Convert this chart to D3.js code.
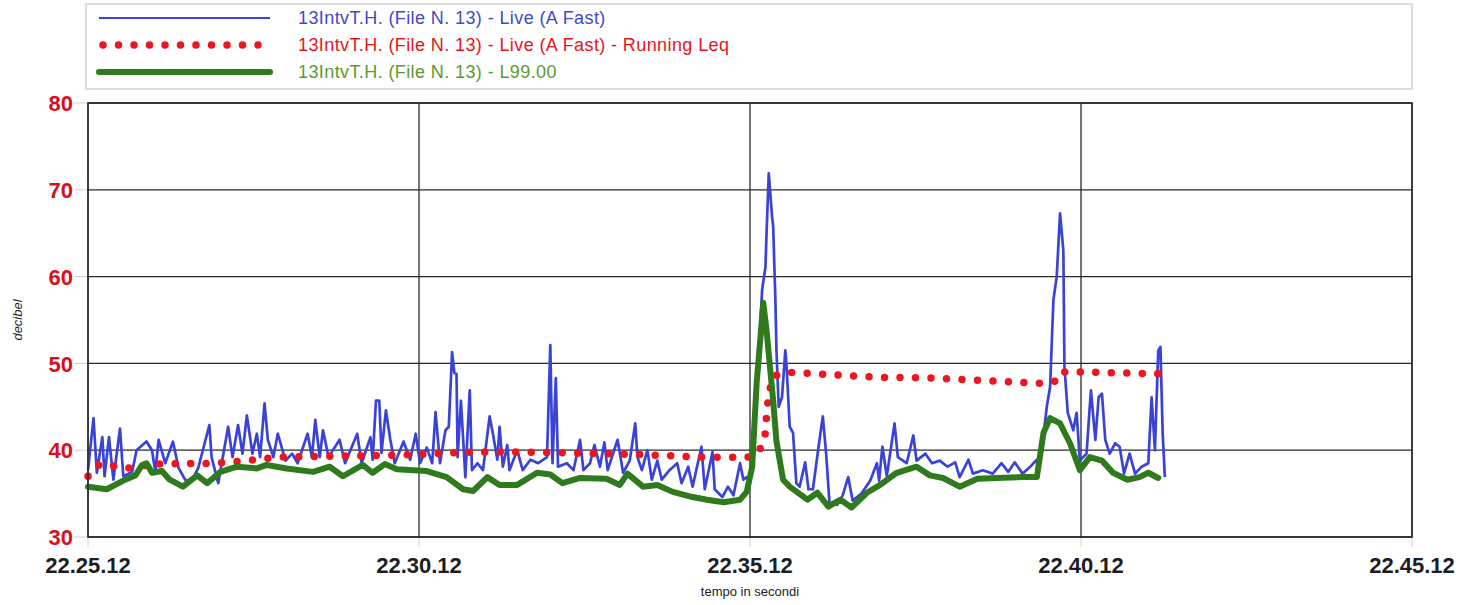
<!DOCTYPE html>
<html>
<head>
<meta charset="utf-8">
<script src="https://cdn.jsdelivr.net/npm/d3@7"></script>
<style>
  body { margin: 0; background: #fff; }
  text { font-family: "Liberation Sans", Arial, sans-serif; }
</style>
</head>
<body>
<div id="chart"></div>
<script>
// times are seconds after 22.25.12
var liveTimes = [0,5,8,13,15,19,23,29,32,40,44,53,58,61,64,70,77,82,88,94,100,110,112,118,127,131,136,140,144,149,153,156,160,163,168,172,179,185,190,199,203,206,210,213,218,228,233,244,248,256,258,261,264,266,270,274,278,286,292,297,301,307,312,315,319,324,327,330,332,334,335,338,342,346,348,353,358,364,367,371,373,376,380,382,389,394,401,408,416,419,421,424,426,434,440,446,449,455,459,464,468,471,480,485,491,496,498,502,507,511,516,520,527,534,538,544,548,556,559,566,568,575,580,585,591,594,597,600,605,609,611,614,615,617,620,621,623,624,626,629,632,633,636,639,642,645,650,653,657,663,666,669,672,679,684,689,693,701,709,715,717,720,724,731,734,742,748,751,759,765,772,779,786,790,798,802,811,820,828,834,840,847,854,860,863,869,872,875,878,881,884,885,888,893,896,899,905,909,913,916,919,922,926,931,935,939,944,949,955,961,964,967,970,972,974,976];
var liveValues = [37.7,43.7,37.4,41.5,37,41.5,36.6,42.5,37,37.5,40,41,40,37.5,41.2,38.5,41,38,36.6,36.4,38,42.9,39.2,36.2,42.7,39.2,42.9,39.6,44,39.6,41.9,39.2,45.4,41.2,39.2,41.9,38.8,39.6,38.5,41.9,39.2,43.5,39.2,42.3,39.2,41.2,38.5,41.9,38.5,41.5,38.9,45.7,45.7,39.7,44.6,41.2,38.5,41,38.9,41.9,38.5,40.3,38.5,44.4,38.5,42.3,42.7,51.3,48.9,48.8,39.2,45.7,36.9,46.9,37.7,38.5,37.7,43.9,41.9,38.9,42.7,38.1,40.6,37.7,40,37.7,38.9,38.5,39.2,52.1,38.5,48.3,38.1,38.5,37.7,41.2,37.7,38.5,40.6,38.1,40.9,37.7,41.2,37.4,38.8,43.1,39.2,37.7,40,36.6,38.8,36.6,37.7,38.5,36.2,38.1,35.8,40.4,35.5,39.8,35.5,34.6,35.8,34.8,38.5,36.6,36.9,36.2,45.7,53.5,58.5,61.1,65,71.9,66.9,65.8,57.3,51.5,45,46.1,51.5,50,42.7,42,36.2,35.8,38.6,35.5,35.5,41.2,43.9,39.6,34,33.7,34.8,36.9,34.2,35,36.5,38.5,36.5,40.4,37,43.1,39.2,38.5,41.7,38.8,39.6,38.5,38.8,38.1,38.6,36.9,38.9,37.3,37.7,37.3,38.5,37.5,38.6,37.3,38.1,38.9,38.5,45,47.3,57.3,60,67.3,63,49.6,44.3,42.3,44.3,38.8,39.6,46.9,41.2,46.1,46.5,41.2,39.6,40.8,40.4,37.3,39.6,37.3,38.1,38.5,46.1,40,51.5,51.9,42,36.9];

var leqTimes = [0,4,11,22,35,49,63,117,144,171,213,267,296,351,392,428,500,557,598,606,611,614,615,617,621,632,715,769,866,872,878,882,902,970];
var leqValues = [37,37.7,38.4,38.2,37.9,38.2,38.4,38.5,38.8,39.2,39.3,39.4,39.5,39.8,39.8,39.7,39.5,39.2,39.2,39.6,40.5,42,44,46.5,48.5,49,48.4,48.3,47.7,47.8,48,49,49,48.8];

var l99Times = [0,17,32,43,49,53,58,67,74,86,99,108,120,135,153,162,180,204,219,231,249,258,269,280,295,307,325,340,349,362,373,389,407,419,430,446,470,482,489,503,516,530,548,561,576,591,597,602,606,609,612,615,621,624,630,636,652,661,671,682,692,706,718,733,751,763,775,790,806,824,847,860,866,872,881,890,899,908,919,929,942,953,961,970];
var l99Values = [35.8,35.5,36.5,37.1,38.3,38.5,37.4,37.6,36.6,35.8,37.1,36.2,37.5,38.1,37.9,38.3,37.9,37.5,38.1,37,38.3,37.4,38.4,37.8,37.7,37.6,36.9,35.5,35.3,36.9,36,36,37.4,37.2,36.2,36.8,36.7,36,37.3,35.8,36,35.2,34.6,34.3,34,34.3,35.2,38.1,47.7,52.3,57,53.8,45.7,41,36.6,35.8,34.3,35.1,33.5,34.3,33.4,35.1,36,37.4,38.1,37.1,36.8,35.8,36.7,36.8,36.9,36.9,42,43.7,43.1,40.8,37.7,39.2,38.8,37.4,36.6,36.9,37.4,36.8];

var xTickSeconds = [0, 300, 600, 900, 1200];
var yTicks = [30, 40, 50, 60, 70, 80];
var seriesNames = [
  "13IntvT.H. (File N. 13) - Live (A Fast)",
  "13IntvT.H. (File N. 13) - Live (A Fast) - Running Leq",
  "13IntvT.H. (File N. 13) - L99.00"
];

(function() {

  var width = 1474,
      height = 605,
      plotLeft = 88,
      plotRight = 1412,
      plotTop = 103,
      plotBottom = 537;

  var blue = '#3a43d8',
      red = '#ee1520',
      green = '#2f7a1d';

  var start = new Date(2000, 0, 1, 22, 25, 12);
  function at(s) { return new Date(start.getTime() + s * 1000); }

  var x = d3.scaleTime().domain([start, at(1200)]).range([plotLeft, plotRight]);
  var y = d3.scaleLinear().domain([30, 80]).range([plotBottom, plotTop]);

  var svg = d3.select('#chart')
    .append('svg')
    .attr('width', width)
    .attr('height', height);

  // legend box
  svg.append('rect')
    .attr('x', 86).attr('y', 4)
    .attr('width', 1326).attr('height', 85)
    .attr('fill', 'none')
    .attr('stroke', '#c8c8c8')
    .attr('stroke-width', 1.2);

  var legend = [
    { name: seriesNames[0], color: blue, text: '#4048cc', y: 18 },
    { name: seriesNames[1], color: red, text: '#e8141c', y: 45 },
    { name: seriesNames[2], color: green, text: '#5a9c2c', y: 72 }
  ];

  legend.forEach(function(d, i) {
    var ln = svg.append('line')
      .attr('x1', i == 1 ? 103 : 99).attr('x2', i == 1 ? 262 : 270)
      .attr('y1', d.y).attr('y2', d.y)
      .attr('stroke', d.color);
    if (i == 0) ln.attr('stroke-width', 2);
    if (i == 1) ln.attr('stroke-width', 7.5).attr('stroke-linecap', 'round').attr('stroke-dasharray', '0,15.5');
    if (i == 2) ln.attr('stroke-width', 6).attr('stroke-linecap', 'round');
    svg.append('text')
      .attr('x', 298).attr('y', d.y)
      .attr('dy', '0.36em')
      .attr('font-size', 18)
      .attr('letter-spacing', 0.4)
      .attr('fill', d.text)
      .text(d.name);
  });

  // light tick marks outside the frame
  svg.selectAll('.ytick')
    .data(yTicks)
    .enter().append('line')
    .attr('x1', 74).attr('x2', plotLeft)
    .attr('y1', function(d) { return y(d); })
    .attr('y2', function(d) { return y(d); })
    .attr('stroke', '#d0d0d0');

  svg.selectAll('.xtick')
    .data(xTickSeconds)
    .enter().append('line')
    .attr('x1', function(d) { return x(at(d)); })
    .attr('x2', function(d) { return x(at(d)); })
    .attr('y1', plotBottom).attr('y2', plotBottom + 10)
    .attr('stroke', '#d0d0d0');

  // grid
  svg.selectAll('.hgrid')
    .data(yTicks)
    .enter().append('line')
    .attr('x1', plotLeft).attr('x2', plotRight)
    .attr('y1', function(d) { return y(d); })
    .attr('y2', function(d) { return y(d); })
    .attr('stroke', '#2a2a2a')
    .attr('stroke-width', 1.3);

  svg.selectAll('.vgrid')
    .data(xTickSeconds)
    .enter().append('line')
    .attr('x1', function(d) { return x(at(d)); })
    .attr('x2', function(d) { return x(at(d)); })
    .attr('y1', plotTop).attr('y2', plotBottom)
    .attr('stroke', '#2a2a2a')
    .attr('stroke-width', 1.3);

  // axis labels
  var fmt = d3.timeFormat('%H.%M.%S');

  svg.selectAll('.ylabel')
    .data(yTicks)
    .enter().append('text')
    .attr('x', 73)
    .attr('y', function(d) { return y(d); })
    .attr('dy', '0.37em')
    .attr('text-anchor', 'end')
    .attr('font-size', 22)
    .attr('font-weight', 'bold')
    .attr('fill', '#d8101c')
    .text(function(d) { return d; });

  svg.selectAll('.xlabel')
    .data(xTickSeconds)
    .enter().append('text')
    .attr('x', function(d) { return x(at(d)); })
    .attr('y', 573)
    .attr('text-anchor', 'middle')
    .attr('font-size', 22)
    .attr('font-weight', 'bold')
    .attr('fill', '#1c1c24')
    .text(function(d) { return fmt(at(d)); });

  svg.append('text')
    .attr('transform', 'translate(22,320) rotate(-90)')
    .attr('text-anchor', 'middle')
    .attr('font-size', 13)
    .attr('font-style', 'italic')
    .attr('fill', '#222')
    .text('decibel');

  svg.append('text')
    .attr('x', 750).attr('y', 596)
    .attr('text-anchor', 'middle')
    .attr('font-size', 13)
    .attr('fill', '#222')
    .text('tempo in secondi');

  // series
  function pts(times, values) {
    return times.map(function(t, i) { return [t, values[i]]; });
  }

  var line = d3.line()
    .x(function(d) { return x(at(d[0])); })
    .y(function(d) { return y(d[1]); });

  svg.append('path')
    .datum(pts(liveTimes, liveValues))
    .attr('d', line)
    .attr('fill', 'none')
    .attr('stroke', blue)
    .attr('stroke-width', 2.7)
    .attr('stroke-linejoin', 'round');

  svg.append('path')
    .datum(pts(leqTimes, leqValues))
    .attr('d', line)
    .attr('fill', 'none')
    .attr('stroke', red)
    .attr('stroke-width', 7.5)
    .attr('stroke-linecap', 'round')
    .attr('stroke-dasharray', '0,15.5');

  svg.append('path')
    .datum(pts(l99Times, l99Values))
    .attr('d', line)
    .attr('fill', 'none')
    .attr('stroke', green)
    .attr('stroke-width', 6)
    .attr('stroke-linejoin', 'round')
    .attr('stroke-linecap', 'round');

  // frame
  svg.append('rect')
    .attr('x', plotLeft).attr('y', plotTop)
    .attr('width', plotRight - plotLeft).attr('height', plotBottom - plotTop)
    .attr('fill', 'none')
    .attr('stroke', '#2a2a2a')
    .attr('stroke-width', 1.5);

})();
</script>
</body>
</html>
